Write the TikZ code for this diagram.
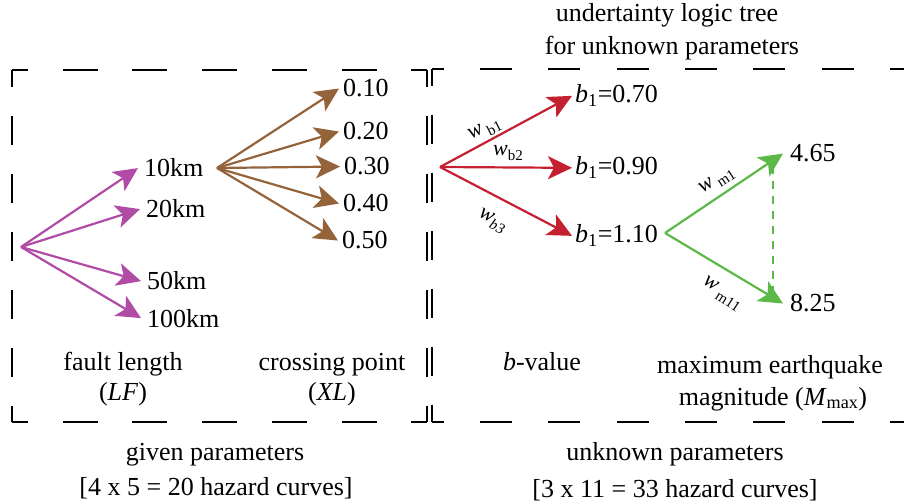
\documentclass[tikz,border=0pt]{standalone}
\usepackage{fontspec}
\setmainfont{Liberation Serif}
\usetikzlibrary{arrows.meta}
\definecolor{cmag}{RGB}{176,75,166}
\definecolor{cbrown}{RGB}{148,99,58}
\definecolor{cred}{RGB}{196,32,48}
\definecolor{cgreen}{RGB}{92,185,71}
\begin{document}
\begin{tikzpicture}[x=1pt,y=-1pt,
  lbl/.style={inner sep=0pt, font=\fontsize{26}{30}\selectfont},
  leaf/.style={lbl, anchor=base west},
  captxt/.style={lbl, anchor=base},
  arr/.style={line width=2.2pt, -{Stealth[length=24pt,width=23pt,inset=6pt]}},
  wl/.style={inner sep=0pt, font=\fontsize{22}{24}\selectfont},
  hside/.style={line width=2.8pt, dash pattern=on 35pt off 34.7pt, dash phase=19pt},
  hsideR/.style={line width=2.8pt, dash pattern=on 32pt off 36.3pt, dash phase=20.3pt},
  vside/.style={line width=2.8pt, dash pattern=on 29pt off 29pt, dash phase=12pt},
]
\useasboundingbox (0,0) rectangle (904,502);
\newcommand{\wsub}[1]{\raisebox{-0.55ex}{\fontsize{15}{15}\selectfont #1}}

% ---- boxes ----
\draw[hside] (12,70) -- (427,70);
\draw[hside] (12,422) -- (427,422);
\draw[vside] (12,70) -- (12,422);
\draw[vside] (427,70) -- (427,422);
\draw[hsideR] (432,69) -- (960,69);
\draw[hsideR] (432,422) -- (960,422);
\draw[vside] (432,69) -- (432,422);

% ---- title ----
\node[captxt] (t1) at (667,22) {undertainty logic tree};
\node[captxt] (t2) at (672,55) {for unknown parameters};

% ---- fault length tree ----
\coordinate (lf) at (21,247);
\node[leaf, inner xsep=6pt] (k10) at (138,177) {10km};
\node[leaf, inner xsep=6pt] (k20) at (140,218) {20km};
\node[leaf, inner xsep=6pt] (k50) at (141,290) {50km};
\node[leaf, inner xsep=6pt] (k100) at (141,327) {100km};
\foreach \n in {k10,k20,k50,k100} \draw[arr, cmag] (lf) -- (\n.west);

% ---- crossing point tree ----
\coordinate (xs) at (217,168);
\node[leaf, inner xsep=4pt] (x1) at (339,97) {0.10};
\node[leaf, inner xsep=4pt] (x2) at (339,140) {0.20};
\node[leaf, inner xsep=4pt] (x3) at (340,175) {0.30};
\node[leaf, inner xsep=4pt] (x4) at (339,212) {0.40};
\node[leaf, inner xsep=4pt] (x5) at (338,249) {0.50};
\foreach \n in {x1,x2,x3,x4,x5} \draw[arr, cbrown] (xs) -- (\n.west);

% ---- b-value tree ----
\coordinate (rb) at (440,167);
\node[leaf, inner xsep=3pt] (b1) at (572,103) {\textit{b}\textsubscript{1}=0.70};
\node[leaf, inner xsep=3pt] (b2) at (572,175) {\textit{b}\textsubscript{1}=0.90};
\node[leaf, inner xsep=3pt] (b3) at (572,243) {\textit{b}\textsubscript{1}=1.10};
\foreach \n in {b1,b2,b3} \draw[arr, cred] (rb) -- (\n.west);
\node[wl, rotate=27] (wb1) at (485,130) {\textit{w}\,\wsub{b1}};
\node[wl] (wb2) at (508,153) {\textit{w}\wsub{b2}};
\node[wl, rotate=-27] (wb3) at (492,221) {\textit{w}\wsub{\textit{b3}}};

% ---- Mmax tree ----
\coordinate (gm) at (665,233);
\node[leaf, inner xsep=7pt] (m1) at (783,162) {4.65};
\node[leaf, inner xsep=7pt] (m2) at (783,312) {8.25};
\draw[arr, cgreen] (gm) -- (m1.west);
\draw[arr, cgreen] (gm) -- (m2.west);
\coordinate (dtop) at (773,166);
\coordinate (dbot) at (773,298);
\draw[cgreen, line width=2.4pt, dash pattern=on 8pt off 7pt] (dtop) -- (dbot);
\node[wl, rotate=33] (wm1) at (717,181) {\textit{w}\,\wsub{m1}};
\node[wl, rotate=-33] (wm2) at (722,294) {\textit{w}\,\wsub{m11}};

% ---- captions ----
\node[captxt] (c1a) at (123,370) {fault length};
\node[captxt] (c1b) at (123,400) {(\textit{LF})};
\node[captxt] (c2a) at (332,370) {crossing point};
\node[captxt] (c2b) at (332,400) {(\textit{XL})};
\node[captxt] (c3) at (542,370) {\textit{b}-value};
\node[captxt] (c4a) at (770,373) {maximum earthquake};
\node[captxt] (c4b) at (773,405) {magnitude (\textit{M}\textsubscript{max})};

\node[captxt] (g1) at (215,460) {given parameters};
\node[captxt] (g2) at (216,495) {[4 x 5 = 20 hazard curves]};
\node[captxt] (u1) at (675,460) {unknown parameters};
\node[captxt] (u2) at (675,497) {[3 x 11 = 33 hazard curves]};
\end{tikzpicture}
\end{document}
